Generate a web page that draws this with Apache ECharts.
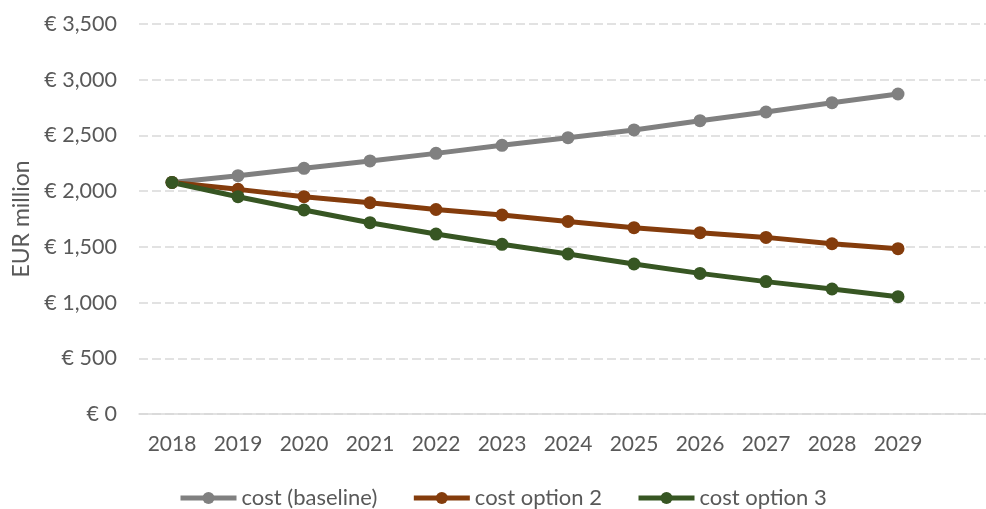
<!DOCTYPE html>
<html>
<head>
<meta charset="utf-8">
<script src="https://cdn.jsdelivr.net/npm/echarts@6/dist/echarts.min.js"></script>
<style>
html,body{margin:0;padding:0;background:#fff;}
#chart{width:986px;height:509px;}
</style>
</head>
<body>
<div id="chart"></div>
<script>
const years = [2018, 2019, 2020, 2021, 2022, 2023, 2024, 2025, 2026, 2027, 2028, 2029];
const baseline = [2078, 2139, 2205, 2271, 2339, 2411, 2480, 2549, 2632, 2710, 2794, 2872];
const option2 = [2078, 2016, 1950, 1896, 1835, 1786, 1728, 1672, 1627, 1585, 1528, 1484];
const option3 = [2078, 1950, 1831, 1717, 1615, 1523, 1436, 1346, 1262, 1188, 1122, 1053];
const seriesNames = ['cost (baseline)', 'cost option 2', 'cost option 3'];
const colors = ['#808080', '#843C0C', '#375623'];

const FONT = 'Lato';
const chart = echarts.init(document.getElementById('chart'), null, {renderer: 'canvas'});
function mk(name, data, color) {
  return {
    name: name, type: 'line',
    data: years.map((y, i) => [y, data[i]]),
    symbol: 'circle', symbolSize: 13,
    lineStyle: {width: 5, color: color},
    itemStyle: {color: color},
    emphasis: {disabled: true},
    animation: false
  };
}
const gridLeft = 139, gridWidth = 847, step = 66;
chart.setOption({
  animation: false,
  color: colors,
  grid: {left: gridLeft, top: 24, width: gridWidth, height: 390, containLabel: false},
  legend: {
    top: 487, left: 178, padding: 0,
    itemWidth: 56, itemHeight: 15, itemGap: 34,
    lineStyle: {width: 5},
    textStyle: {fontFamily: FONT, fontSize: 22, color: '#595959'},
    data: seriesNames
  },
  xAxis: {
    type: 'value',
    min: years[0] - 0.5,
    max: years[0] - 0.5 + gridWidth / step,
    axisLine: {show: true, onZero: false, lineStyle: {color: '#d9d9d9', width: 1.5}},
    axisTick: {show: false},
    splitLine: {show: false},
    axisLabel: {
      customValues: years,
      fontFamily: FONT, fontSize: 21, color: '#595959', margin: 20,
      formatter: v => String(v)
    }
  },
  yAxis: {
    type: 'value', min: 0, max: 3500, interval: 500,
    name: 'EUR million', nameLocation: 'middle', nameGap: 103,
    nameTextStyle: {fontFamily: FONT, fontSize: 23, color: '#595959'},
    axisLine: {show: false}, axisTick: {show: false},
    axisLabel: {
      fontFamily: FONT, fontSize: 21.5, color: '#595959', margin: 22,
      formatter: v => '€ ' + v.toLocaleString('en-US')
    },
    splitLine: {lineStyle: {color: '#d9d9d9', width: 1.5, type: [9, 4]}}
  },
  series: [
    mk(seriesNames[0], baseline, colors[0]),
    mk(seriesNames[1], option2, colors[1]),
    mk(seriesNames[2], option3, colors[2])
  ]
});
</script>
</body>
</html>
